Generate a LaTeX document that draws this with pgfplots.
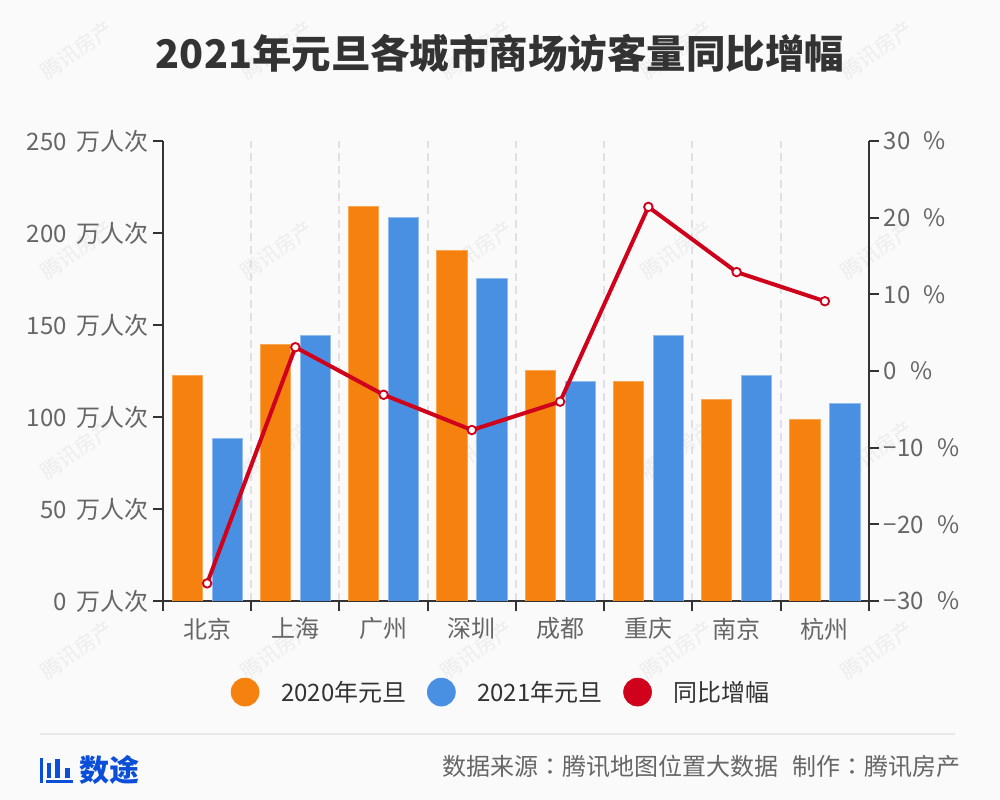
\documentclass[border=0pt]{standalone}
\usepackage{fontspec}
\usepackage{pgfplots}
\pgfplotsset{compat=1.18}
\setmainfont{Noto Sans CJK SC}
\newfontfamily\tcfont{Noto Sans CJK TC}
\definecolor{bgc}{HTML}{FAFAFA}
\definecolor{axc}{HTML}{333333}
\definecolor{txc}{HTML}{666666}
\definecolor{gridc}{HTML}{E0E0E0}
\definecolor{cOrange}{HTML}{F5820F}
\definecolor{cBlue}{HTML}{4A90E2}
\definecolor{cRed}{HTML}{D0021B}
\definecolor{wmc}{HTML}{EDEDED}
\definecolor{logoc}{HTML}{0B4FD9}
\newcommand{\wm}[2]{\node[rotate=35,text=wmc,font=\fontsize{15.5pt}{15.5pt}\selectfont] at (#1,#2) {腾讯房产};}
\begin{document}
\begin{tikzpicture}
\begin{scope}[x=0.75pt,y=-0.75pt,yshift=600pt]
\fill[bgc] (0,0) rectangle (1000,800);
\foreach \yy in {50,250,450,650}{\foreach \xx in {77,277,477,677,877}{\wm{\xx}{\yy}}}
\node[font=\fontsize{29.6pt}{29.6pt}\selectfont\bfseries,text=axc] at (500,53) {2021年元旦各城市商场访客量同比增幅};
\end{scope}

\begin{axis}[
  at={(122.25pt,149.25pt)}, anchor=south west,
  scale only axis, width=529.5pt, height=345pt,
  xmin=-0.5, xmax=7.5, ymin=0, ymax=250,
  axis x line*=bottom, axis y line*=left,
  axis line style={draw=axc,line width=1.5pt,-},
  xtick={0,1,2,3,4,5,6,7},
  xticklabels={北京,上海,广州,深圳,成都,重庆,南京,杭州},
  minor xtick={-0.5,0.5,1.5,2.5,3.5,4.5,5.5,6.5,7.5},
  xminorgrids=true,
  minor grid style={draw=gridc,line width=1.5pt,dash pattern=on 6pt off 4pt},
  tick align=outside,
  major tick length=7.5pt, minor tick length=7.5pt,
  major x tick style={draw=none},
  minor x tick style={draw=axc,line width=1.5pt},
  y tick style={draw=axc,line width=1.5pt},
  ytick={0,50,100,150,200,250},
  yticklabels={0\, 万人次,50\, 万人次,100\, 万人次,150\, 万人次,200\, 万人次,250\, 万人次},
  tick label style={text=txc,font=\fontsize{18pt}{18pt}\selectfont},
  xticklabel style={yshift=-1.5pt},
  legend columns=3,
  legend style={at={(0.4794,-0.198)},anchor=center,draw=none,fill=none,
    font=\fontsize{18pt}{18pt}\selectfont,text=axc,
    /tikz/every even column/.append style={column sep=13.5pt}},
]
\addplot[ybar,bar width=22.6pt,bar shift=-15pt,fill=cOrange,draw=cOrange!70!white,line width=0.5pt,
  legend image code/.code={\fill[cOrange] (0,0) circle (10.5pt); \path (24.75pt,0);}]
  coordinates {(0,122.5) (1,139.5) (2,214.5) (3,190.5) (4,125.5) (5,119.5) (6,109.5) (7,98.5)};
\addlegendentry{2020年元旦}
\addplot[ybar,bar width=22.6pt,bar shift=15pt,fill=cBlue,draw=cBlue!60!white,line width=0.5pt,
  legend image code/.code={\fill[cBlue] (0,0) circle (10.5pt); \path (24.75pt,0);}]
  coordinates {(0,88.5) (1,144.5) (2,208.5) (3,175.5) (4,119.5) (5,144.5) (6,122.5) (7,107.5)};
\addlegendentry{2021年元旦}
\addlegendimage{legend image code/.code={\fill[cRed] (0,0) circle (10.5pt); \path (24.75pt,0);}}
\addlegendentry{同比增幅}
\end{axis}

\begin{axis}[
  at={(122.25pt,149.25pt)}, anchor=south west,
  scale only axis, width=529.5pt, height=345pt,
  xmin=-0.5, xmax=7.5, ymin=-30, ymax=30,
  axis x line=none, axis y line*=right,
  axis line style={draw=axc,line width=1.5pt,-},
  tick align=outside, major tick length=7.5pt,
  y tick style={draw=axc,line width=1.5pt},
  ytick={-30,-20,-10,0,10,20,30},
  yticklabels={−30\,\, \%,−20\,\, \%,−10\,\, \%,0\,\, \%,10\,\, \%,20\,\, \%,30\,\, \%},
  yticklabel style={text=txc,font=\fontsize{18pt}{18pt}\selectfont},
  clip=false,
]
\addplot[cRed,line width=3pt,mark=*,mark size=3.2pt,
  mark options={fill=white,draw=cRed,line width=1.4pt}]
  coordinates {(0,-27.7) (1,3.1) (2,-3.1) (3,-7.7) (4,-4.0) (5,21.4) (6,12.9) (7,9.1)};
\end{axis}

\begin{scope}[x=0.75pt,y=-0.75pt,yshift=600pt]
\draw[draw=gridc!70!bgc,line width=1.5pt] (40,734) -- (955,734);
\node[anchor=east,text=txc,font=\fontsize{18pt}{18pt}\selectfont,inner sep=0pt] at (961,766) {数据来源{\tcfont ：}腾讯地图位置大数据\hspace{10.5pt}制作{\tcfont ：}腾讯房产};
\node[anchor=west,text=logoc,font=\fontsize{22.5pt}{22.5pt}\selectfont\bfseries,inner sep=0pt] at (79,770) {数途};
\fill[logoc] (40,758) rectangle (43,783);
\fill[logoc] (46,780) rectangle (73,783);
\fill[logoc] (47,763) rectangle (51,778);
\fill[logoc] (55,759) rectangle (60,778);
\fill[logoc] (65,768) rectangle (70,778);
\end{scope}
\end{tikzpicture}
\end{document}
